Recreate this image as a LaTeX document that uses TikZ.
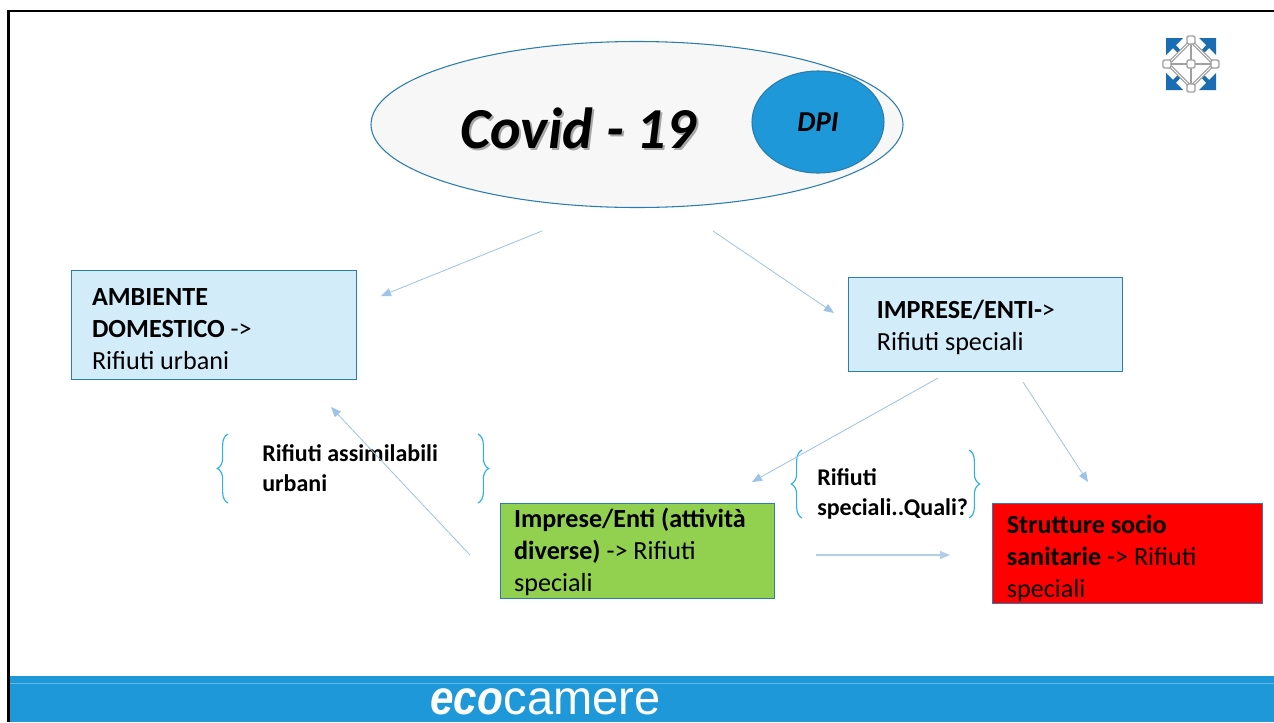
\documentclass[tikz,border=0pt]{standalone}
\usepackage{fontspec}
\setmainfont{Carlito}
\newfontfamily\logofont[FakeStretch=0.98]{Liberation Sans}
\newfontfamily\ecofont[FakeStretch=0.88]{Liberation Sans}
\usetikzlibrary{arrows.meta,decorations.pathreplacing,shapes.geometric,calc}
\definecolor{banner}{HTML}{1E98D8}
\definecolor{boxblue}{HTML}{D2ECFA}
\definecolor{edgeblue}{HTML}{2A7DAE}
\definecolor{arrowblue}{HTML}{9DC3E6}
\definecolor{bracecol}{HTML}{2BB0EE}
\definecolor{okgreen}{HTML}{92D050}
\definecolor{logoblue}{HTML}{1A6DB2}
\definecolor{logogrey}{HTML}{A0A0A0}
\newcommand{\boxtext}[4]{\makebox[#1][l]{\hspace*{#2}\raisebox{#3}[0pt][0pt]{\parbox[c]{180pt}{#4}}}}
\tikzset{
  x=0.75pt,y=-0.75pt,
  infobox/.style={draw=edgeblue,line width=0.8pt,anchor=north west,align=left,inner sep=0pt,font=\fontsize{19.6pt}{24pt}\selectfont},
  flow/.style={draw=arrowblue,line width=0.6pt,-{Triangle[length=7.5pt,width=6pt]}},
  bracket/.style={draw=bracecol,line width=0.85pt,decorate,decoration={brace,amplitude=8pt,aspect=0.5}},
  bracenote/.style={anchor=north west,align=left,inner sep=0pt,font=\bfseries\fontsize{18pt}{22.5pt}\selectfont},
  iconline/.style={draw=logogrey,line width=1.4pt},
  iconknob/.style={draw=logogrey,fill=white,line width=1pt,rounded corners=1pt,minimum size=6pt,inner sep=0pt},
  iconshaft/.style={draw=logoblue,line width=3pt},
  iconhead/.style={fill=logoblue},
}
\begin{document}
\begin{tikzpicture}
\useasboundingbox (0,0) rectangle (1274,722);
\fill[white] (0,0) rectangle (1274,722);
% frame
\fill[black] (7,9.5) rectangle (1274,12);
\fill[black] (7,9.5) rectangle (10,722);
% banner
\fill[banner] (10,676) rectangle (1274,722);
\draw[white,opacity=.3,line width=.6pt] (10,683) -- (1274,683);
\node[anchor=base west,inner sep=0pt,text=white,font=\ecofont\bfseries\itshape\fontsize{36pt}{36pt}\selectfont] (ecologo) at (430,714) {eco};
\node[anchor=base west,inner sep=0pt,text=white,font=\logofont\fontsize{36pt}{36pt}\selectfont] (camerelogo) at (ecologo.base east) {camere};
% main ellipse
\node[ellipse,draw=edgeblue,fill=black!3,line width=.8pt,inner sep=0pt,minimum width=399pt,minimum height=124.5pt] (covid) at (637,124.5) {};
\node[text=black!35,font=\bfseries\itshape\fontsize{43.5pt}{43.5pt}\selectfont,inner sep=0pt] (covidshadow) at (580,130) {Covid - 19};
\node[font=\bfseries\itshape\fontsize{43.5pt}{43.5pt}\selectfont,inner sep=0pt] (covidtext) at (578,128) {Covid - 19};
\node[ellipse,draw=edgeblue,fill=banner,line width=.8pt,inner sep=0pt,minimum width=99pt,minimum height=76.5pt,font=\bfseries\itshape\fontsize{21.6pt}{21.6pt}\selectfont] (dpi) at (818,122) {DPI};
% boxes
\node[infobox,fill=boxblue,minimum width=213.75pt,minimum height=81.75pt] (amb) at (71,270) {\boxtext{213pt}{15pt}{-8.5pt}{\textbf{AMBIENTE}\\\textbf{DOMESTICO} ->\\Rifiuti urbani}};
\node[infobox,fill=boxblue,minimum width=205.5pt,minimum height=70.5pt] (imp) at (848,277) {\boxtext{205pt}{21pt}{-7pt}{\textbf{IMPRESE/ENTI-}>\\Rifiuti speciali}};
\node[infobox,fill=okgreen,minimum width=205.5pt,minimum height=71.25pt] (green) at (500,503) {\boxtext{205pt}{10pt}{-5.5pt}{\textbf{Imprese/Enti (attività}\\\textbf{diverse)} -> Rifiuti\\speciali}};
\node[infobox,fill=red,minimum width=202.5pt,minimum height=75pt] (san) at (992,503) {\boxtext{202pt}{10.5pt}{-9pt}{\textbf{Strutture socio}\\\textbf{sanitarie} -> Rifiuti\\speciali}};
% brace notes
\node[bracenote] (note1) at (262,444) {Rifiuti assimilabili\\urbani};
\node[bracenote] (note2) at (817,468) {Rifiuti\\speciali..Quali?};
\coordinate (b1a) at (228,503); \coordinate (b1b) at (228,434);
\coordinate (b2a) at (478,434); \coordinate (b2b) at (478,503);
\coordinate (b3a) at (802,518); \coordinate (b3b) at (802,450);
\coordinate (b4a) at (969,450); \coordinate (b4b) at (969,518);
\draw[bracket] (b1a) -- (b1b);
\draw[bracket] (b2a) -- (b2b);
\draw[bracket] (b3a) -- (b3b);
\draw[bracket] (b4a) -- (b4b);
% connectors with free ends
\coordinate (a1s) at (542,231); \coordinate (a1e) at (381,296);
\coordinate (a2s) at (713,231); \coordinate (a2e) at (834,313);
\coordinate (a3s) at (938,378); \coordinate (a3e) at (752,482);
\coordinate (a4s) at (1023,382); \coordinate (a4e) at (1088,482);
\coordinate (a5s) at (470,555); \coordinate (a5e) at (331,407);
\coordinate (a6s) at (816,555); \coordinate (a6e) at (950,555);
\draw[flow] (a1s) -- (a1e);
\draw[flow] (a2s) -- (a2e);
\draw[flow] (a3s) -- (a3e);
\draw[flow] (a4s) -- (a4e);
\draw[flow] (a5s) -- (a5e);
\draw[flow,line width=1pt,draw=arrowblue!80] (a6s) -- (a6e);
% corner icon
\coordinate (ic) at (1191,64);
\draw[iconshaft] (1191,64) -- (1170,42);
\draw[iconshaft] (1191,64) -- (1212,42);
\draw[iconshaft] (1191,64) -- (1170,86);
\draw[iconshaft] (1191,64) -- (1212,86);
\fill[iconhead] (1166,38) -- (1183,38) -- (1166,55) -- cycle;
\fill[iconhead] (1216,38) -- (1199,38) -- (1216,55) -- cycle;
\fill[iconhead] (1166,90) -- (1183,90) -- (1166,73) -- cycle;
\fill[iconhead] (1216,90) -- (1199,90) -- (1216,73) -- cycle;
\draw[draw=logogrey,line width=2.6pt,fill=white] (1191,41) -- (1214,64) -- (1191,87) -- (1168,64) -- cycle;
\draw[draw=white,line width=.7pt] (1191,41) -- (1214,64) -- (1191,87) -- (1168,64) -- cycle;
\draw[iconline] (1191,41) -- (1191,87);
\draw[iconline] (1168,64) -- (1214,64);
\node[iconknob] (k1) at (1191,40) {};
\node[iconknob] (k2) at (1191,88) {};
\node[iconknob] (k3) at (1167,64) {};
\node[iconknob] (k4) at (1215,64) {};
\node[iconknob] (k5) at (ic) {};
\end{tikzpicture}
\end{document}
